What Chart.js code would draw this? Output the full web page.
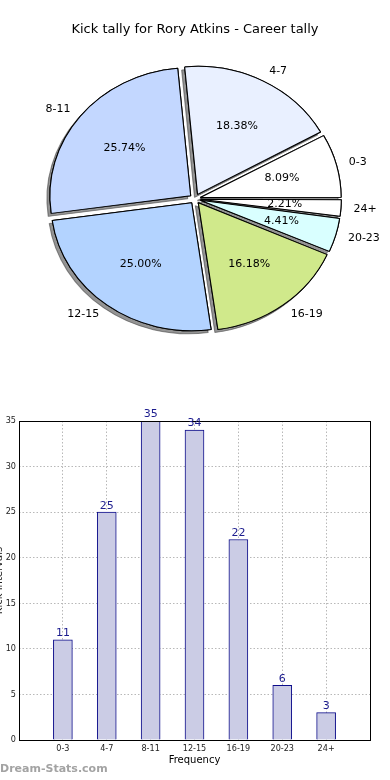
<!DOCTYPE html>
<html>
<head>
<meta charset="utf-8">
<script src="https://cdn.jsdelivr.net/npm/chart.js@4.4.1/dist/chart.umd.min.js"></script>
<style>
  body { margin: 0; background: #fff; width: 390px; height: 780px; overflow: hidden; position: relative; }
  #pieBox { position: absolute; left: 0; top: 0; width: 390px; height: 400px; }
  #barBox { position: absolute; left: 0; top: 400px; width: 390px; height: 380px; }
  #mark { position: absolute; left: 0; top: 762px; font: bold 11px "DejaVu Sans", sans-serif; color: #a3a3a3; }
</style>
</head>
<body>
<div id="pieBox"><canvas id="pie"></canvas></div>
<div id="barBox"><canvas id="bar"></canvas></div>
<div id="mark">Dream-Stats.com</div>
<script>
// data
const titleText = "Kick tally for Rory Atkins - Career tally";
const labels = ["0-3", "4-7", "8-11", "12-15", "16-19", "20-23", "24+"];
const counts = [11, 25, 35, 34, 22, 6, 3];
const sliceColors = ["#ffffff", "#e9f0ff", "#c3d7ff", "#b3d3ff", "#d0e98b", "#d9ffff", "#ffffff"];
const yTicks = [0, 5, 10, 15, 20, 25, 30, 35];
const xTitle = "Frequency";
const yTitle = "Kick Intervals";

const font = "'DejaVu Sans', sans-serif";
const narrow = "'DejaVu Sans Condensed', 'Liberation Sans Narrow', 'DejaVu Sans', sans-serif";
const stretchX = 1.1; // pie is a bit wider than tall
const pieRadius = 128;

// matplotlib goes counter-clockwise, chart.js clockwise -> reverse
const pieLabels = labels.slice().reverse();
const pieCounts = counts.slice().reverse();
const pieColors = sliceColors.slice().reverse();

// squash the pie into an ellipse, shadow pass underneath
const ellipse = {
    id: "ellipse",
    afterDatasetsUpdate(chart) {
        // chart.js grows thin exploded slices, undo that so all share one radius
        chart.getDatasetMeta(0).data.forEach(arc => {
            const off = (arc.options.offset || 0) / 4;
            const fix = 1 - Math.sin(Math.min(Math.PI, arc.circumference || 0));
            arc.outerRadius = pieRadius - off * fix;
        });
    },
    beforeDatasetsDraw(chart) {
        const a = chart.chartArea;
        const cx = (a.left + a.right) / 2, cy = (a.top + a.bottom) / 2;
        const ctx = chart.ctx;
        ctx.save();
        ctx.translate(cx, cy);
        ctx.scale(stretchX, 1);
        ctx.translate(-cx, -cy);
        ctx.save();
        ctx.shadowColor = "rgba(60,60,60,0.55)";
        ctx.shadowOffsetX = -3;
        ctx.shadowOffsetY = 3;
        ctx.shadowBlur = 0;
        chart.getDatasetMeta(0).data.forEach(arc => arc.draw(ctx));
        ctx.restore();
    },
    afterDatasetsDraw(chart) {
        chart.ctx.restore();
    }
};

// labels outside and percentages inside
const sliceText = {
    id: "sliceText",
    afterDraw(chart) {
        const ctx = chart.ctx;
        const meta = chart.getDatasetMeta(0);
        const data = chart.data.datasets[0].data;
        const total = data.reduce((s, v) => s + v, 0);
        ctx.save();
        ctx.font = "11px " + font;
        ctx.fillStyle = "#000";
        ctx.textBaseline = "middle";
        meta.data.forEach((arc, i) => {
            const p = arc.getProps(["x", "y", "startAngle", "endAngle"], true);
            const mid = (p.startAngle + p.endAngle) / 2;
            const off = (arc.options.offset || 0) / 4;
            const at = r => [p.x + stretchX * Math.cos(mid) * (off + r), p.y + Math.sin(mid) * (off + r)];
            let [lx, ly] = at(pieRadius * 1.09);
            ctx.textAlign = Math.cos(mid) > 0 ? "left" : "right";
            ctx.fillText(chart.data.labels[i], lx, ly);
            let [tx, ty] = at(pieRadius * 0.6);
            ctx.textAlign = "center";
            ctx.fillText((data[i] / total * 100).toFixed(2) + "%", tx, ty);
        });
        ctx.restore();
    }
};

new Chart(document.getElementById("pie"), {
    type: "pie",
    data: {
        labels: pieLabels,
        datasets: [{
            data: pieCounts,
            backgroundColor: pieColors,
            borderColor: "#000",
            borderWidth: 1,
            offset: 20,
            hoverOffset: 0,
            clip: false
        }]
    },
    options: {
        responsive: true,
        maintainAspectRatio: false,
        animation: false,
        rotation: 90,
        radius: pieRadius,
        layout: { padding: { bottom: 60 } },
        plugins: {
            legend: { display: false },
            tooltip: { enabled: false },
            title: {
                display: true,
                text: titleText,
                color: "#000",
                font: { family: font, size: 13, weight: "normal" },
                padding: { top: 22, bottom: 20 }
            }
        }
    },
    plugins: [ellipse, sliceText]
});

// bar chart: empty slot on each side, like xlim 0..8
const barCats = ["", ...labels, ""];
const barVals = [null, ...counts, null];

const barExtras = {
    id: "barExtras",
    afterDraw(chart) {
        const ctx = chart.ctx;
        const a = chart.chartArea;
        ctx.save();
        // box round the plot
        ctx.strokeStyle = "#000";
        ctx.lineWidth = 1;
        ctx.strokeRect(Math.round(a.left) + 0.5, Math.round(a.top) + 0.5,
            Math.round(a.right - a.left), Math.round(a.bottom - a.top));
        // values above bars
        ctx.fillStyle = "#1c1c8e";
        ctx.font = "11px " + font;
        ctx.textAlign = "center";
        ctx.textBaseline = "bottom";
        const meta = chart.getDatasetMeta(0);
        meta.data.forEach((bar, i) => {
            const v = chart.data.datasets[0].data[i];
            if (v == null) return;
            ctx.fillText(String(v), bar.x, bar.y - 1);
        });
        // y title, cut off by the left edge
        ctx.fillStyle = "#222";
        ctx.font = "10px " + font;
        ctx.translate(2, (a.top + a.bottom) / 2);
        ctx.rotate(-Math.PI / 2);
        ctx.textAlign = "center";
        ctx.textBaseline = "alphabetic";
        ctx.fillText(yTitle, 0, 0);
        ctx.restore();
    }
};

new Chart(document.getElementById("bar"), {
    type: "bar",
    data: {
        labels: barCats,
        datasets: [{
            data: barVals,
            backgroundColor: "#cbcce5",
            borderColor: "#0c0c8a",
            borderWidth: 1,
            barThickness: 19
        }]
    },
    options: {
        responsive: true,
        maintainAspectRatio: false,
        animation: false,
        layout: { padding: { top: 21, right: 20, left: 0, bottom: 0 } },
        plugins: {
            legend: { display: false },
            tooltip: { enabled: false }
        },
        scales: {
            x: {
                offset: false,
                z: 1,
                grid: { offset: false, color: "#b8b8b8", lineWidth: 1, drawTicks: false },
                border: { display: false, dash: [1.5, 2] },
                ticks: { color: "#222", font: { family: narrow, size: 9 }, padding: 3, maxRotation: 0, autoSkip: false },
                title: { display: true, text: xTitle, color: "#000", font: { family: font, size: 10 }, padding: { top: 0, bottom: 14 } },
                afterFit(scale) { scale.height = 40; }
            },
            y: {
                min: yTicks[0],
                max: yTicks[yTicks.length - 1],
                z: 1,
                ticks: { stepSize: yTicks[1] - yTicks[0], color: "#222", font: { family: narrow, size: 9 }, padding: 3 },
                grid: { color: "#b8b8b8", lineWidth: 1, drawTicks: false },
                border: { display: false, dash: [1.5, 2] },
                afterFit(scale) { scale.width = 19; }
            }
        }
    },
    plugins: [barExtras]
});
</script>
</body>
</html>
